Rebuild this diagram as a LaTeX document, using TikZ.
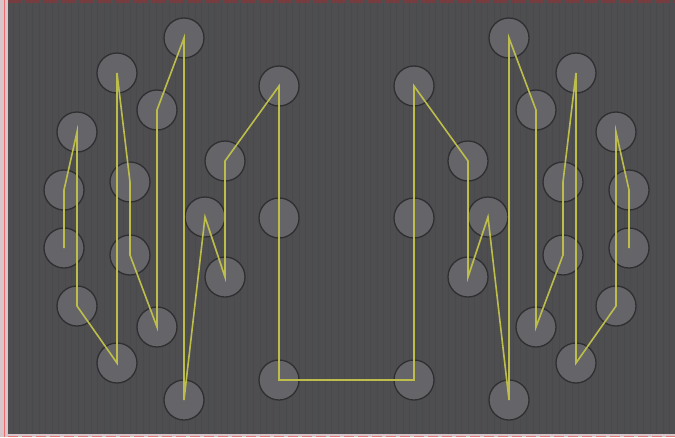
\documentclass[tikz,border=0pt]{standalone}
\usetikzlibrary{positioning}
\definecolor{panelgray}{HTML}{4E4E51}
\definecolor{gridgray}{HTML}{494A4C}
\definecolor{padgray}{HTML}{6A6A6E}
\definecolor{padedge}{HTML}{2F2F31}
\definecolor{trackyellow}{HTML}{BDBD4C}
\definecolor{edgepink}{HTML}{D8C6CB}
\tikzset{
  pad/.style={circle,draw=padedge,line width=1.3pt,fill=padgray,fill opacity=0.85,minimum size=40pt,inner sep=0pt},
  track/.style={trackyellow,line width=1.6pt,line join=miter}
}
\begin{document}
\begin{tikzpicture}[x=1pt,y=-1pt]
    \useasboundingbox (0,0) rectangle (675,437);
    % board
    \fill [edgepink] (0,0) rectangle (675,437);
    \fill [panelgray] (8,0) rectangle (675,434);
    \draw [gridgray,line width=0.4pt,step=6.5] (8,3) grid (675,434);
    \draw [red!22!panelgray,line width=3pt,dash pattern=on 14pt off 4pt] (8,1.5) -- (675,1.5);
    \draw [red!45!edgepink,line width=1pt] (4,0) -- (4,437);
    \draw [red!40!edgepink,line width=1pt,dash pattern=on 10pt off 4pt] (8,436) -- (675,436);
    % pads, left half and its mirror
    \foreach \n/\x/\y in {1/64/248,2/64/190,3/77/132,4/77/306,5/117/363,6/117/73,7/130/182,8/130/255,9/157/327,
                         10/157/110,11/184/38,12/184/400,13/205/217,14/225/277,15/225/161,16/279/86,17/279/380,0/279/218}{
        \node [pad] (a\n) at (\x,\y) {};
        \node [pad] (b\n) at (693-\x,\y) {};
    }
    % track
    \draw [track] (a1.center) \foreach \i in {2,...,17}{ -- (a\i.center)} \foreach \i in {17,...,1}{ -- (b\i.center)};
\end{tikzpicture}
\end{document}
